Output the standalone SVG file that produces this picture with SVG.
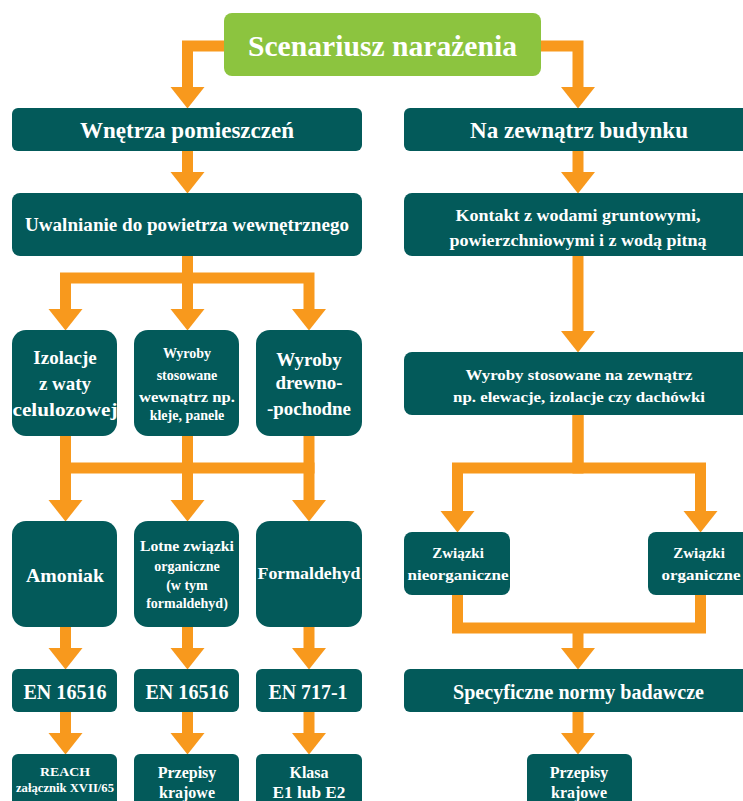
<svg xmlns="http://www.w3.org/2000/svg" width="743" height="801" viewBox="0 0 743 801">
<defs>
<marker id="ah" markerUnits="userSpaceOnUse" markerWidth="22" markerHeight="35" refX="0" refY="17" orient="auto" viewBox="0 0 22 34">
<path d="M0,0 L21.5,17 L0,34 z" fill="#f8991d"/>
</marker>
<style>
.b{fill:#035a5a}
.g{fill:#8cc43f}
.t{fill:#ffffff;text-anchor:middle;font-weight:bold}
.c{fill:none;stroke:#f8991d;stroke-width:11;stroke-linejoin:miter}
.a{marker-end:url(#ah)}
</style>
</defs>
<rect width="743" height="801" fill="#ffffff"/>
<g id="connectors">
<path class="c a" d="M224,46 H187.5 V87"/>
<path class="c a" d="M541,46 H578 V87"/>
<path class="c a" d="M187.5,151 V172"/>
<path class="c a" d="M578,151 V172"/>
<path class="c a" d="M187.5,256 V278 H65.5 V309"/>
<path class="c a" d="M187.5,256 V309"/>
<path class="c a" d="M187.5,256 V278 H309 V309"/>
<path class="c" d="M60,468 H314.5"/>
<path class="c a" d="M65.5,436 V500"/>
<path class="c a" d="M187.5,436 V500"/>
<path class="c a" d="M309,436 V500"/>
<path class="c a" d="M65.5,627 V648"/>
<path class="c a" d="M187.5,627 V648"/>
<path class="c a" d="M309,627 V648"/>
<path class="c a" d="M65.5,712 V733"/>
<path class="c a" d="M187.5,712 V733"/>
<path class="c a" d="M309,712 V733"/>
<path class="c a" d="M578,256 V331"/>
<path class="c a" d="M578,415 V468 H457.5 V511"/>
<path class="c a" d="M578,415 V468 H700.5 V511"/>
<path class="c" d="M457.5,595 V628 H700.5 V595"/>
<path class="c a" d="M578,628 V648"/>
<path class="c a" d="M578,712 V733"/>
</g>
<g id="n-scenariusz">
<rect class="g" x="224" y="13" width="317" height="63" rx="8"/>
<text class="t" font-family="Liberation Serif" x="382.5" y="56" font-size="30" textLength="269" lengthAdjust="spacingAndGlyphs">Scenariusz narażenia</text>
</g>
<g id="n-wnetrza">
<rect class="b" x="12" y="108" width="350" height="43" rx="6"/>
<text class="t" font-family="Liberation Serif" x="187" y="138" font-size="24" textLength="214" lengthAdjust="spacingAndGlyphs">Wnętrza pomieszczeń</text>
</g>
<g id="n-zewnatrz">
<rect class="b" x="404" y="108" width="349" height="43" rx="6"/>
<text class="t" font-family="Liberation Serif" x="579" y="138" font-size="24" textLength="218" lengthAdjust="spacingAndGlyphs">Na zewnątrz budynku</text>
</g>
<g id="n-uwalnianie">
<rect class="b" x="12" y="193" width="350" height="63" rx="8"/>
<text class="t" font-family="Liberation Serif" x="187" y="231" font-size="18" textLength="324" lengthAdjust="spacingAndGlyphs">Uwalnianie do powietrza wewnętrznego</text>
</g>
<g id="n-kontakt">
<rect class="b" x="404" y="193" width="349" height="63" rx="8"/>
<text class="t" font-family="Liberation Serif" x="578" y="221" font-size="17" textLength="245" lengthAdjust="spacingAndGlyphs">Kontakt z wodami gruntowymi,</text>
<text class="t" font-family="Liberation Serif" x="578" y="246" font-size="17" textLength="257" lengthAdjust="spacingAndGlyphs">powierzchniowymi i z wodą pitną</text>
</g>
<g id="n-izolacje">
<rect class="b" x="12" y="330" width="105" height="106" rx="14"/>
<text class="t" font-family="Liberation Serif" x="65" y="364" font-size="19">Izolacje</text>
<text class="t" font-family="Liberation Serif" x="65" y="390" font-size="19">z waty</text>
<text class="t" font-family="Liberation Serif" x="65" y="416" font-size="19" textLength="105" lengthAdjust="spacingAndGlyphs">celulozowej</text>
</g>
<g id="n-wyroby-wew">
<rect class="b" x="134" y="330" width="105" height="106" rx="14"/>
<text class="t" font-family="Liberation Serif" x="187" y="358" font-size="14">Wyroby</text>
<text class="t" font-family="Liberation Serif" x="187" y="380" font-size="14">stosowane</text>
<text class="t" font-family="Liberation Serif" x="187" y="402" font-size="14" textLength="96" lengthAdjust="spacingAndGlyphs">wewnątrz np.</text>
<text class="t" font-family="Liberation Serif" x="187" y="420" font-size="14">kleje, panele</text>
</g>
<g id="n-drewno">
<rect class="b" x="256" y="330" width="106" height="106" rx="14"/>
<text class="t" font-family="Liberation Serif" x="309" y="366" font-size="19">Wyroby</text>
<text class="t" font-family="Liberation Serif" x="309" y="389" font-size="19">drewno-</text>
<text class="t" font-family="Liberation Serif" x="309" y="415" font-size="19" textLength="84" lengthAdjust="spacingAndGlyphs">-pochodne</text>
</g>
<g id="n-amoniak">
<rect class="b" x="12" y="521" width="105" height="106" rx="14"/>
<text class="t" font-family="Liberation Serif" x="65" y="582" font-size="19" textLength="78" lengthAdjust="spacingAndGlyphs">Amoniak</text>
</g>
<g id="n-lotne">
<rect class="b" x="134" y="521" width="105" height="106" rx="14"/>
<text class="t" font-family="Liberation Serif" x="187" y="551" font-size="14" textLength="94" lengthAdjust="spacingAndGlyphs">Lotne związki</text>
<text class="t" font-family="Liberation Serif" x="187" y="571" font-size="14">organiczne</text>
<text class="t" font-family="Liberation Serif" x="187" y="590" font-size="14">(w tym</text>
<text class="t" font-family="Liberation Serif" x="187" y="608" font-size="14">formaldehyd)</text>
</g>
<g id="n-formaldehyd">
<rect class="b" x="256" y="521" width="106" height="106" rx="14"/>
<text class="t" font-family="Liberation Serif" x="309" y="579" font-size="17" textLength="103" lengthAdjust="spacingAndGlyphs">Formaldehyd</text>
</g>
<g id="n-en1">
<rect class="b" x="12" y="669" width="105" height="43" rx="6"/>
<text class="t" font-family="Liberation Serif" x="65" y="699" font-size="20" textLength="83" lengthAdjust="spacingAndGlyphs">EN 16516</text>
</g>
<g id="n-en2">
<rect class="b" x="134" y="669" width="105" height="43" rx="6"/>
<text class="t" font-family="Liberation Serif" x="187" y="699" font-size="20" textLength="83" lengthAdjust="spacingAndGlyphs">EN 16516</text>
</g>
<g id="n-en3">
<rect class="b" x="256" y="669" width="106" height="43" rx="6"/>
<text class="t" font-family="Liberation Serif" x="308" y="699" font-size="20" textLength="79" lengthAdjust="spacingAndGlyphs">EN 717-1</text>
</g>
<g id="n-reach">
<rect class="b" x="12" y="754" width="105" height="60" rx="6"/>
<text class="t" font-family="Liberation Serif" x="65" y="776" font-size="12" textLength="50" lengthAdjust="spacingAndGlyphs">REACH</text>
<text class="t" font-family="Liberation Serif" x="65" y="792" font-size="11.5" textLength="98" lengthAdjust="spacingAndGlyphs">załącznik XVII/65</text>
</g>
<g id="n-przepisy1">
<rect class="b" x="134" y="754" width="105" height="60" rx="6"/>
<text class="t" font-family="Liberation Serif" x="187" y="778" font-size="16">Przepisy</text>
<text class="t" font-family="Liberation Serif" x="187" y="798" font-size="16">krajowe</text>
</g>
<g id="n-klasa">
<rect class="b" x="256" y="754" width="106" height="60" rx="6"/>
<text class="t" font-family="Liberation Serif" x="309" y="778" font-size="16">Klasa</text>
<text class="t" font-family="Liberation Serif" x="309" y="798" font-size="16" textLength="73" lengthAdjust="spacingAndGlyphs">E1 lub E2</text>
</g>
<g id="n-wyroby-zew">
<rect class="b" x="404" y="352" width="349" height="63" rx="8"/>
<text class="t" font-family="Liberation Serif" x="579" y="380" font-size="15" textLength="227" lengthAdjust="spacingAndGlyphs">Wyroby stosowane na zewnątrz</text>
<text class="t" font-family="Liberation Serif" x="579" y="402" font-size="15" textLength="252" lengthAdjust="spacingAndGlyphs">np. elewacje, izolacje czy dachówki</text>
</g>
<g id="n-nieorg">
<rect class="b" x="404" y="532" width="106" height="63" rx="8"/>
<text class="t" font-family="Liberation Serif" x="458" y="558" font-size="15">Związki</text>
<text class="t" font-family="Liberation Serif" x="458" y="580" font-size="15" textLength="101" lengthAdjust="spacingAndGlyphs">nieorganiczne</text>
</g>
<g id="n-org">
<rect class="b" x="648" y="532" width="105" height="63" rx="8"/>
<text class="t" font-family="Liberation Serif" x="699" y="558" font-size="15">Związki</text>
<text class="t" font-family="Liberation Serif" x="701" y="580" font-size="15" textLength="79" lengthAdjust="spacingAndGlyphs">organiczne</text>
</g>
<g id="n-specyficzne">
<rect class="b" x="404" y="669" width="349" height="43" rx="6"/>
<text class="t" font-family="Liberation Serif" x="578.5" y="699" font-size="20" textLength="251" lengthAdjust="spacingAndGlyphs">Specyficzne normy badawcze</text>
</g>
<g id="n-przepisy2">
<rect class="b" x="527" y="754" width="105" height="60" rx="6"/>
<text class="t" font-family="Liberation Serif" x="579" y="778" font-size="16">Przepisy</text>
<text class="t" font-family="Liberation Serif" x="579" y="798" font-size="16">krajowe</text>
</g>
</svg>
